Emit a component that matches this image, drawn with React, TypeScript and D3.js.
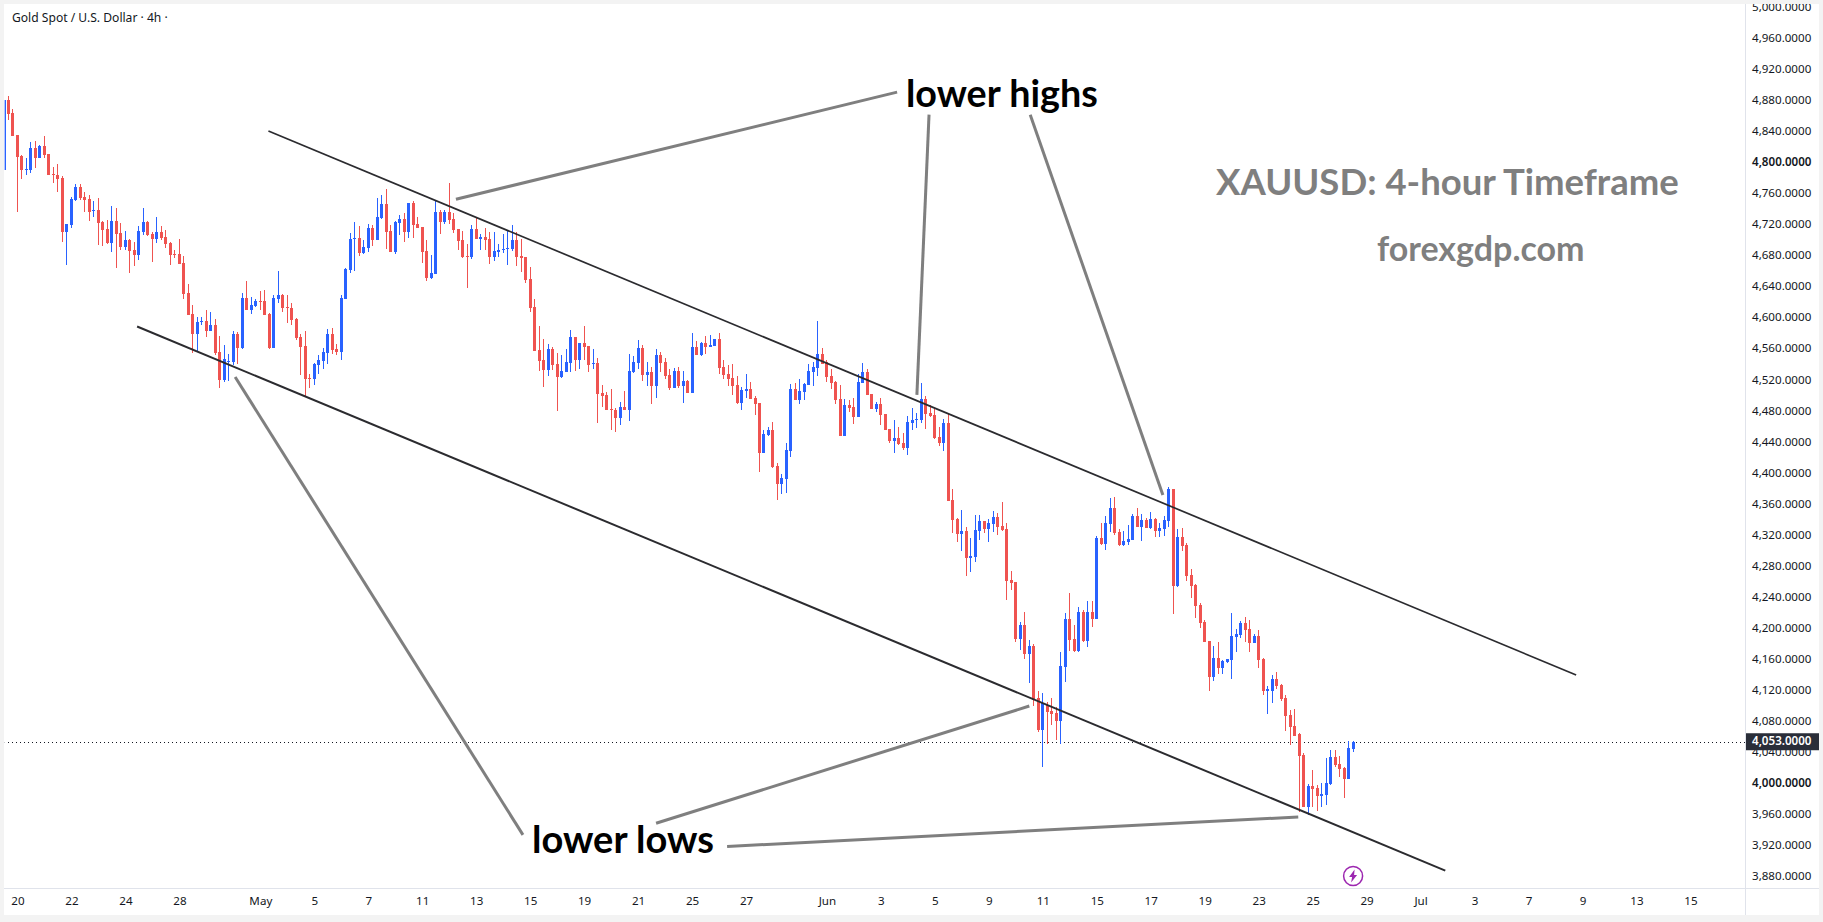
import React, { useEffect, useRef } from 'react';
import * as d3 from 'd3';

// [open, high, low, close] for each 4h bar. Bar 0 is the one cut by the left edge.
const candles: [number, number, number, number][] = [
  [4790, 4880, 4790, 4880],
  [4880, 4885, 4854, 4862], [4863, 4868, 4834, 4834], [4835, 4835, 4736, 4806], [4808, 4809, 4778, 4790], [4790, 4805, 4783, 4791],
  [4790, 4826, 4786, 4818], [4818, 4827, 4792, 4805], [4805, 4822, 4805, 4821], [4821, 4834, 4805, 4809], [4810, 4810, 4783, 4783],
  [4785, 4794, 4773, 4783], [4783, 4797, 4761, 4778], [4779, 4782, 4697, 4710], [4710, 4720, 4667, 4720], [4719, 4755, 4715, 4752],
  [4751, 4772, 4750, 4768], [4768, 4772, 4751, 4754], [4755, 4761, 4736, 4751], [4752, 4758, 4724, 4736], [4737, 4750, 4729, 4738],
  [4738, 4754, 4693, 4721], [4723, 4724, 4692, 4712], [4714, 4725, 4694, 4696], [4696, 4743, 4684, 4724], [4724, 4741, 4663, 4707],
  [4709, 4721, 4687, 4691], [4691, 4711, 4687, 4699], [4699, 4701, 4657, 4685], [4687, 4697, 4666, 4680], [4680, 4718, 4674, 4711],
  [4710, 4741, 4706, 4723], [4723, 4724, 4705, 4706], [4707, 4710, 4671, 4701], [4701, 4729, 4696, 4710], [4710, 4718, 4699, 4702],
  [4703, 4712, 4689, 4694], [4696, 4697, 4667, 4680], [4681, 4687, 4676, 4680], [4681, 4701, 4669, 4669], [4670, 4679, 4623, 4630],
  [4631, 4643, 4603, 4603], [4604, 4616, 4554, 4578], [4578, 4600, 4556, 4594], [4594, 4600, 4590, 4595], [4595, 4609, 4574, 4582],
  [4582, 4607, 4582, 4590], [4590, 4598, 4551, 4554], [4555, 4576, 4509, 4519], [4519, 4564, 4516, 4546], [4542, 4553, 4518, 4544],
  [4542, 4582, 4538, 4578], [4578, 4581, 4540, 4560], [4560, 4631, 4559, 4625], [4625, 4647, 4609, 4609], [4609, 4626, 4604, 4616],
  [4614, 4623, 4613, 4621], [4621, 4634, 4609, 4620], [4621, 4635, 4603, 4603], [4604, 4605, 4559, 4560], [4560, 4629, 4560, 4625],
  [4623, 4660, 4618, 4629], [4629, 4630, 4607, 4612], [4613, 4629, 4593, 4612], [4612, 4618, 4590, 4596], [4598, 4599, 4571, 4573],
  [4574, 4578, 4525, 4562], [4563, 4582, 4498, 4520], [4522, 4527, 4509, 4520], [4520, 4541, 4513, 4540], [4538, 4551, 4527, 4545],
  [4544, 4560, 4533, 4555], [4554, 4585, 4540, 4578], [4578, 4586, 4553, 4558], [4559, 4565, 4551, 4555], [4555, 4629, 4545, 4625],
  [4623, 4663, 4623, 4662], [4661, 4708, 4657, 4701], [4701, 4723, 4660, 4702], [4702, 4718, 4679, 4683], [4683, 4700, 4681, 4690],
  [4689, 4720, 4684, 4715], [4715, 4719, 4692, 4700], [4700, 4754, 4700, 4729], [4728, 4757, 4727, 4746], [4746, 4765, 4688, 4710],
  [4711, 4719, 4684, 4684], [4684, 4724, 4681, 4723], [4721, 4732, 4706, 4727], [4727, 4734, 4697, 4710], [4710, 4747, 4702, 4747],
  [4747, 4750, 4702, 4719], [4720, 4729, 4715, 4715], [4716, 4716, 4670, 4684], [4685, 4700, 4647, 4650], [4650, 4680, 4649, 4657],
  [4656, 4750, 4656, 4736], [4736, 4738, 4707, 4723], [4723, 4738, 4720, 4736], [4736, 4773, 4720, 4725], [4727, 4734, 4708, 4712],
  [4714, 4714, 4687, 4698], [4699, 4711, 4676, 4678], [4679, 4694, 4638, 4678], [4678, 4719, 4675, 4714], [4714, 4728, 4701, 4701],
  [4701, 4707, 4687, 4703], [4703, 4715, 4687, 4699], [4701, 4710, 4669, 4678], [4678, 4710, 4672, 4685], [4684, 4694, 4678, 4687],
  [4687, 4707, 4683, 4688], [4688, 4712, 4667, 4689], [4688, 4719, 4685, 4699], [4699, 4710, 4666, 4678], [4679, 4701, 4658, 4676],
  [4678, 4678, 4644, 4648], [4649, 4665, 4607, 4612], [4613, 4623, 4556, 4556], [4558, 4589, 4531, 4544], [4545, 4572, 4510, 4532],
  [4532, 4565, 4524, 4559], [4559, 4561, 4532, 4538], [4540, 4554, 4479, 4523], [4523, 4551, 4522, 4531], [4529, 4559, 4529, 4542],
  [4541, 4583, 4529, 4574], [4574, 4574, 4531, 4545], [4545, 4567, 4533, 4567], [4567, 4589, 4545, 4562], [4563, 4563, 4529, 4538],
  [4540, 4559, 4533, 4541], [4541, 4547, 4464, 4501], [4502, 4513, 4484, 4498], [4500, 4504, 4480, 4480], [4482, 4507, 4455, 4480],
  [4480, 4483, 4452, 4470], [4470, 4491, 4461, 4484], [4484, 4505, 4480, 4480], [4480, 4553, 4466, 4531], [4529, 4550, 4528, 4542],
  [4541, 4571, 4533, 4560], [4560, 4564, 4518, 4525], [4525, 4542, 4511, 4529], [4529, 4536, 4488, 4511], [4511, 4559, 4496, 4551],
  [4551, 4555, 4529, 4541], [4542, 4547, 4520, 4524], [4525, 4533, 4506, 4509], [4509, 4534, 4509, 4531], [4531, 4536, 4509, 4511],
  [4511, 4531, 4489, 4518], [4518, 4519, 4502, 4502], [4502, 4580, 4502, 4562], [4562, 4569, 4551, 4551], [4551, 4568, 4550, 4567],
  [4567, 4576, 4553, 4562], [4562, 4577, 4562, 4564], [4563, 4572, 4563, 4572], [4572, 4580, 4527, 4534], [4536, 4545, 4520, 4525],
  [4527, 4538, 4511, 4520], [4522, 4540, 4500, 4511], [4513, 4524, 4488, 4489], [4489, 4510, 4480, 4506], [4505, 4527, 4496, 4507],
  [4507, 4516, 4495, 4495], [4496, 4498, 4474, 4488], [4489, 4489, 4400, 4425], [4425, 4455, 4425, 4449], [4448, 4458, 4447, 4455],
  [4455, 4465, 4406, 4407], [4408, 4412, 4364, 4385], [4385, 4398, 4372, 4393], [4391, 4438, 4373, 4429], [4428, 4514, 4420, 4507],
  [4507, 4515, 4493, 4493], [4493, 4520, 4488, 4505], [4504, 4515, 4493, 4514], [4513, 4540, 4513, 4531], [4529, 4542, 4511, 4536],
  [4535, 4595, 4524, 4553], [4553, 4560, 4540, 4540], [4542, 4545, 4516, 4523], [4524, 4533, 4507, 4515], [4516, 4518, 4488, 4493],
  [4495, 4513, 4447, 4447], [4447, 4495, 4447, 4487], [4487, 4493, 4478, 4483], [4484, 4496, 4462, 4471], [4471, 4527, 4471, 4516],
  [4515, 4541, 4515, 4529], [4529, 4533, 4500, 4500], [4501, 4501, 4482, 4482], [4482, 4491, 4478, 4488], [4488, 4496, 4461, 4474],
  [4475, 4475, 4455, 4455], [4456, 4456, 4438, 4440], [4440, 4467, 4425, 4444], [4444, 4458, 4435, 4437], [4438, 4451, 4429, 4431],
  [4431, 4473, 4422, 4465], [4464, 4483, 4455, 4468], [4468, 4476, 4457, 4469], [4468, 4515, 4464, 4495], [4495, 4498, 4456, 4475],
  [4476, 4487, 4471, 4473], [4474, 4482, 4443, 4444], [4446, 4458, 4434, 4438], [4438, 4469, 4428, 4464], [4464, 4475, 4363, 4363],
  [4364, 4379, 4322, 4339], [4340, 4341, 4310, 4321], [4321, 4351, 4299, 4324], [4324, 4330, 4266, 4290], [4290, 4315, 4272, 4292],
  [4291, 4345, 4284, 4326], [4324, 4345, 4313, 4337], [4337, 4337, 4322, 4327], [4327, 4340, 4311, 4335], [4333, 4350, 4323, 4342],
  [4342, 4348, 4319, 4330], [4331, 4362, 4324, 4326], [4327, 4335, 4235, 4260], [4261, 4273, 4248, 4257], [4259, 4259, 4181, 4185],
  [4185, 4207, 4171, 4203], [4203, 4220, 4159, 4166], [4166, 4184, 4129, 4177], [4177, 4179, 4099, 4107], [4109, 4118, 4065, 4068],
  [4068, 4116, 4021, 4103], [4100, 4104, 4050, 4091], [4092, 4110, 4074, 4089], [4090, 4098, 4055, 4080], [4080, 4168, 4050, 4150],
  [4149, 4219, 4130, 4211], [4211, 4245, 4170, 4184], [4185, 4203, 4168, 4170], [4170, 4226, 4168, 4220], [4220, 4223, 4181, 4183],
  [4183, 4234, 4175, 4220], [4220, 4234, 4201, 4211], [4211, 4318, 4211, 4315], [4315, 4335, 4306, 4308], [4308, 4344, 4300, 4335],
  [4333, 4367, 4323, 4354], [4354, 4368, 4319, 4322], [4323, 4327, 4305, 4306], [4306, 4324, 4305, 4312], [4310, 4332, 4306, 4314],
  [4313, 4346, 4313, 4344], [4344, 4354, 4330, 4330], [4330, 4346, 4312, 4339], [4339, 4341, 4328, 4328], [4328, 4349, 4327, 4340],
  [4340, 4341, 4317, 4324], [4324, 4335, 4317, 4328], [4327, 4344, 4318, 4339], [4337, 4381, 4330, 4379], [4379, 4379, 4217, 4254],
  [4254, 4327, 4252, 4317], [4317, 4328, 4299, 4305], [4306, 4309, 4260, 4266], [4268, 4275, 4238, 4254], [4255, 4256, 4212, 4228],
  [4229, 4232, 4199, 4206], [4207, 4210, 4181, 4181], [4183, 4183, 4119, 4136], [4136, 4176, 4131, 4161], [4161, 4181, 4140, 4148],
  [4148, 4158, 4140, 4157], [4156, 4159, 4154, 4159], [4158, 4219, 4134, 4189], [4188, 4198, 4168, 4192], [4190, 4208, 4187, 4206],
  [4206, 4214, 4181, 4197], [4198, 4210, 4168, 4180], [4180, 4192, 4180, 4189], [4189, 4197, 4148, 4158], [4159, 4161, 4113, 4118],
  [4119, 4125, 4089, 4121], [4119, 4139, 4103, 4134], [4134, 4143, 4121, 4125], [4126, 4127, 4105, 4108], [4109, 4113, 4067, 4086],
  [4087, 4094, 4049, 4072], [4073, 4095, 4061, 4061], [4063, 4064, 3963, 4034], [4036, 4038, 3969, 3969], [3969, 3999, 3958, 3996],
  [3996, 4016, 3969, 3992], [3993, 3997, 3964, 3983], [3983, 4000, 3969, 3986], [3984, 4032, 3971, 4000], [3998, 4042, 3997, 4033],
  [4033, 4042, 4020, 4023], [4024, 4034, 4007, 4018], [4019, 4020, 3980, 4005], [4005, 4054, 4005, 4045], [4044, 4054, 4040, 4053],
];

const lastPrice = 4053;
const priceTicks = d3.range(3880, 5001, 40);
const boldTicks = [4000, 4800];

const timeTickBars = [3, 15, 27, 39, 57, 69, 81, 93, 105, 117, 129, 141, 153, 165, 183, 195, 207, 219, 231, 243, 255, 267, 279, 291, 303, 315, 327, 339, 351, 363, 375];
const timeTickLabels = ['20', '22', '24', '28', 'May', '5', '7', '11', '13', '15', '19', '21', '25', '27', 'Jun', '3', '5', '9', '11', '15', '17', '19', '23', '25', '29', 'Jul', '3', '7', '9', '13', '15'];

// channel lines and callouts, as [bar, price] pairs
const upperChannel: [number, number][] = [[58.8, 4840], [349.6, 4139]];
const lowerChannel: [number, number][] = [[29.6, 4588], [320.5, 3887]];
const callouts: [number, number][][] = [
  [[100.5, 4752], [198.6, 4890]],
  [[205.7, 4861], [203, 4500]],
  [[228.2, 4861], [257.7, 4371]],
  [[51.4, 4523], [115.4, 3933]],
  [[145, 3948], [228, 4099]],
  [[160.8, 3918], [287.8, 3956]],
];

const UP = '#2962FF';
const DOWN = '#EF5350';
const INK = '#131722';
const AXIS_FONT = '"Noto Sans", sans-serif';
const NOTE_FONT = 'Lato, sans-serif';

const App: React.FC = () => {
  const svgRef = useRef<SVGSVGElement>(null);

  useEffect(() => {
    if (!svgRef.current) return;

    const svg = d3.select(svgRef.current);
    svg.selectAll('*').remove();

    const width = 1823;
    const height = 922;
    const plot = { left: 4, top: 4, right: 1745, bottom: 888, edge: 1819, foot: 915 };

    const x = d3.scaleLinear().domain([1, 300]).range([8.5, 1353.1]);
    const y = d3.scaleLinear().domain([3880, 4800]).range([876, 162]);

    svg.append('rect').attr('width', width).attr('height', height).attr('fill', '#f3f3f3');
    svg.append('rect')
      .attr('x', plot.left)
      .attr('y', plot.top)
      .attr('width', plot.edge - plot.left)
      .attr('height', plot.foot - plot.top)
      .attr('fill', '#fff');

    svg.append('clipPath').attr('id', 'plot-clip').append('rect')
      .attr('x', plot.left + 0.8)
      .attr('y', plot.top)
      .attr('width', plot.right - plot.left)
      .attr('height', plot.bottom - plot.top);
    svg.append('clipPath').attr('id', 'scale-clip').append('rect')
      .attr('x', plot.right)
      .attr('y', plot.top)
      .attr('width', plot.edge - plot.right)
      .attr('height', plot.bottom - plot.top);

    // Axis frame
    svg.append('line')
      .attr('x1', plot.right + 0.5).attr('x2', plot.right + 0.5)
      .attr('y1', plot.top).attr('y2', plot.foot)
      .attr('stroke', '#e0e3eb');
    svg.append('line')
      .attr('x1', plot.left).attr('x2', plot.edge)
      .attr('y1', plot.bottom + 0.5).attr('y2', plot.bottom + 0.5)
      .attr('stroke', '#e0e3eb');

    // Price axis
    const yAxis = svg.append('g')
      .attr('clip-path', 'url(#scale-clip)')
      .append('g')
      .attr('transform', `translate(${plot.right + 7},0)`)
      .call(d3.axisRight(y).tickValues(priceTicks).tickSize(0).tickPadding(0).tickFormat(d => d3.format(',.4f')(d as number)));
    yAxis.select('.domain').remove();
    yAxis.selectAll<SVGTextElement, number>('text')
      .style('font-family', AXIS_FONT)
      .style('font-size', '11.6px')
      .style('font-weight', d => (boldTicks.includes(d) ? 600 : 400))
      .attr('fill', INK);

    // Time axis
    const xAxis = svg.append('g')
      .attr('transform', `translate(0,${plot.bottom})`)
      .call(d3.axisBottom(x).tickValues(timeTickBars).tickSize(0).tickPadding(9).tickFormat((d, i) => timeTickLabels[i]));
    xAxis.select('.domain').remove();
    xAxis.selectAll('text')
      .style('font-family', AXIS_FONT)
      .style('font-size', '11.6px')
      .attr('fill', INK);

    const g = svg.append('g').attr('clip-path', 'url(#plot-clip)');

    // Last price line
    g.append('line')
      .attr('x1', plot.left).attr('x2', plot.right)
      .attr('y1', Math.round(y(lastPrice)) + 0.5).attr('y2', Math.round(y(lastPrice)) + 0.5)
      .attr('stroke', INK)
      .attr('stroke-dasharray', '1 3');

    // Candles
    const bars = g.append('g').attr('shape-rendering', 'crispEdges')
      .selectAll('g')
      .data(candles)
      .join('g')
      .attr('fill', d => (d[3] >= d[0] ? UP : DOWN));
    bars.append('rect')
      .attr('x', (d, i) => Math.floor(x(i)))
      .attr('y', d => y(d[1]))
      .attr('width', 1)
      .attr('height', d => Math.max(1, y(d[2]) - y(d[1])));
    bars.append('rect')
      .attr('x', (d, i) => Math.floor(x(i)) - 1)
      .attr('y', d => y(Math.max(d[0], d[3])))
      .attr('width', 3)
      .attr('height', d => Math.max(1, Math.abs(y(d[0]) - y(d[3]))));

    const line = d3.line<[number, number]>().x(d => x(d[0])).y(d => y(d[1]));

    // Channel
    g.selectAll('.channel')
      .data([upperChannel, lowerChannel])
      .join('path')
      .attr('class', 'channel')
      .attr('d', line)
      .attr('fill', 'none')
      .attr('stroke', '#2b2b2f')
      .attr('stroke-width', (d, i) => (i === 0 ? 1.7 : 2));

    // Callouts
    g.selectAll('.callout')
      .data(callouts)
      .join('path')
      .attr('class', 'callout')
      .attr('d', line)
      .attr('fill', 'none')
      .attr('stroke', '#7f7f7f')
      .attr('stroke-width', 3);

    const note = (text: string, tx: number, ty: number, size: number, color: string) =>
      svg.append('text')
        .attr('x', tx)
        .attr('y', ty)
        .style('font-family', NOTE_FONT)
        .style('font-weight', 700)
        .style('font-size', `${size}px`)
        .attr('fill', color)
        .text(text);

    note('lower highs', 906, 106.5, 37.7, '#000');
    note('lower lows', 532, 852.5, 38, '#000');
    note('XAUUSD: 4-hour Timeframe', 1216, 195, 36.5, '#7f7f7f');
    note('forexgdp.com', 1377, 261, 34, '#7f7f7f');

    // Title
    svg.append('text')
      .attr('x', 12)
      .attr('y', 22)
      .style('font-family', AXIS_FONT)
      .style('font-size', '12.1px')
      .attr('fill', INK)
      .text('Gold Spot / U.S. Dollar · 4h ·');

    // Last price tag
    svg.append('rect')
      .attr('x', plot.right + 1)
      .attr('y', y(lastPrice) - 8.5)
      .attr('width', plot.edge - plot.right - 1)
      .attr('height', 17)
      .attr('fill', '#2a2e39');
    svg.append('text')
      .attr('x', plot.right + 7)
      .attr('y', y(lastPrice))
      .attr('dy', '0.32em')
      .style('font-family', AXIS_FONT)
      .style('font-size', '11.6px')
      .style('font-weight', 600)
      .attr('fill', '#fff')
      .text(d3.format(',.4f')(lastPrice));

    // Lightning badge under the last bar
    const badge = svg.append('g').attr('transform', `translate(${x(candles.length - 1)},876)`);
    badge.append('circle').attr('r', 9.5).attr('fill', '#fff').attr('stroke', '#9c27b0').attr('stroke-width', 1.5);
    badge.append('path').attr('d', 'M1.5-6.5-4 1h3l-1 5.5L4-1H1z').attr('fill', '#9c27b0');
  }, []);

  return (
    <>
      <style>{'body{margin:0}'}</style>
      <svg ref={svgRef} width={1823} height={922} viewBox="0 0 1823 922" style={{ display: 'block' }} />
    </>
  );
};

export default App;
